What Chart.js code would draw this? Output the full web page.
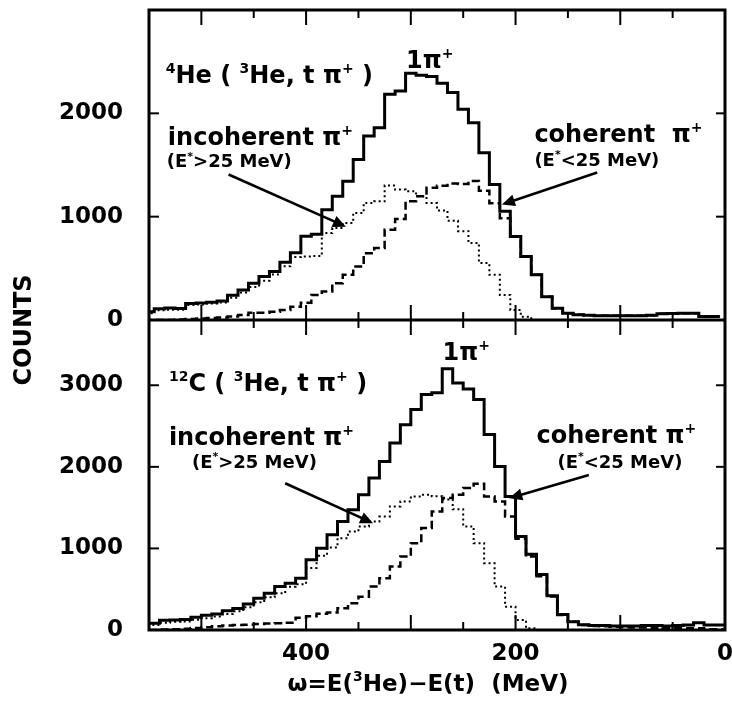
<!DOCTYPE html>
<html><head><meta charset="utf-8">
<style>html,body{margin:0;padding:0;background:#fff}canvas{display:block}</style>
<script src="https://cdn.jsdelivr.net/npm/chart.js@4"></script>
</head><body>
<canvas id="c" width="732" height="706"></canvas>
<script>
// ---- data (MeV bin centres, counts) ----
const binWidth = 10;
const topBins = [550,540,530,520,510,500,490,480,470,460,450,440,430,420,410,400,390,380,370,360,350,340,330,320,310,300,290,280,270,260,250,240,230,220,210,200,190,180,170,160,150,140,130,120,110,100,90,80,70,60,50,40,30,20,10];
const topTotal = [50,80,110,115,112,160,165,172,185,240,290,355,420,470,560,650,810,830,1068,1197,1343,1553,1780,1861,2185,2217,2389,2369,2356,2292,2201,2039,1910,1618,1311,1052,809,615,437,226,113,65,50,45,42,40,40,40,42,45,60,62,65,65,35];
const topIncoherent = [35,65,95,100,100,145,150,160,170,215,265,320,380,440,520,610,615,620,842,890,939,1036,1133,1149,1301,1262,1246,1197,1133,1060,960,860,745,551,437,243,97,32,0,0,0,0,0,0,0,0,0,0,0,0,0,0,0,0,0];
const topCoherent = [0,0,0,0,5,10,15,20,25,35,49,71,71,80,97,129,168,243,275,356,437,518,647,696,874,978,1149,1197,1279,1300,1320,1315,1345,1250,1130,985,809,615,437,226,113,65,50,45,42,40,40,40,42,45,60,62,65,65,35];

const bottomBins = [545,535,525,515,505,495,485,475,465,455,445,435,425,415,405,395,385,375,365,355,345,335,325,315,305,295,285,275,265,255,245,235,225,215,205,195,185,175,165,155,145,135,125,115,105,95,85,75,65,55,45,35,25,15,5];
const bottomTotal = [61,82,118,123,128,156,180,195,235,265,320,390,450,532,573,634,860,1003,1167,1330,1474,1658,1863,2067,2292,2517,2702,2886,2907,3201,3029,2955,2824,2395,2005,1637,1146,930,680,420,190,100,65,55,55,50,50,50,55,55,50,55,60,90,60];
const bottomIncoherent = [40,60,90,100,105,125,145,165,195,230,280,340,400,450,530,560,760,910,1010,1126,1207,1269,1330,1391,1514,1576,1637,1658,1640,1600,1480,1269,1064,819,532,286,123,20,0,0,0,0,0,0,0,0,0,0,0,0,0,0,0,0,0];
const bottomCoherent = [0,0,5,10,15,25,35,45,55,60,65,75,80,82,90,150,170,200,215,266,327,409,532,634,777,900,1064,1250,1453,1617,1658,1740,1793,1637,1576,1391,1120,900,660,410,185,100,62,50,45,40,35,30,30,25,20,20,20,20,10];

const xTickLabels = [400, 200, 0];
const topYTicks = [0, 1000, 2000];
const bottomYTicks = [0, 1000, 2000, 3000];

// ---- helpers ----
function steps(centers, values) {
  const pts = centers.map((c, i) => ({x: c + binWidth / 2, y: values[i]}));
  pts.push({x: centers[centers.length - 1] - binWidth / 2, y: values[values.length - 1]});
  return pts;
}
const FONT = '"DejaVu Sans", sans-serif';
function rich(ctx, x, y, segs, size, align) {
  const base = 'bold ' + size + 'px ' + FONT;
  const sup = 'bold ' + Math.round(size * 0.6) + 'px ' + FONT;
  let w = 0;
  for (const s of segs) { ctx.font = s[1] ? sup : base; w += ctx.measureText(s[0]).width; }
  let cx = align === 'center' ? x - w / 2 : x;
  ctx.textAlign = 'left'; ctx.textBaseline = 'alphabetic';
  for (const s of segs) {
    ctx.font = s[1] ? sup : base;
    ctx.fillText(s[0], cx, s[1] ? y - size * 0.42 : y);
    cx += ctx.measureText(s[0]).width;
  }
}

const notes = [
  {axis:'yTop', x:534, y:2290, size:24, segs:[['4',1],['He ( '],['3',1],['He, t π'],['+',1],[' )']]},
  {axis:'yTop', x:282, y:2440, size:24, align:'center', segs:[['1π'],['+',1]]},
  {axis:'yTop', x:532, y:1690, size:24, segs:[['incoherent π'],['+',1]]},
  {axis:'yTop', x:533, y:1480, size:18, segs:[['(E'],['*',1],['>25 MeV)']]},
  {axis:'yTop', x:182, y:1720, size:24, segs:[['coherent  π'],['+',1]]},
  {axis:'yTop', x:182, y:1490, size:18, segs:[['(E'],['*',1],['<25 MeV)']]},
  {axis:'yBot', x:531, y:2930, size:24, segs:[['12',1],['C ( '],['3',1],['He, t π'],['+',1],[' )']]},
  {axis:'yBot', x:247, y:3310, size:24, align:'center', segs:[['1π'],['+',1]]},
  {axis:'yBot', x:531, y:2268, size:24, segs:[['incoherent π'],['+',1]]},
  {axis:'yBot', x:509, y:1986, size:18, segs:[['(E'],['*',1],['>25 MeV)']]},
  {axis:'yBot', x:180, y:2293, size:24, segs:[['coherent π'],['+',1]]},
  {axis:'yBot', x:160, y:1986, size:18, segs:[['(E'],['*',1],['<25 MeV)']]}
];
const arrows = [
  {axis:'yTop', from:[474,1408], to:[362,903]},
  {axis:'yTop', from:[122,1427], to:[213,1117]},
  {axis:'yBot', from:[420,1799], to:[336,1308]},
  {axis:'yBot', from:[130,1900], to:[206,1615]}
];

const deco = {
  id: 'deco',
  afterDatasetsDraw(chart) {
    const {ctx, chartArea: a, scales} = chart;
    const xs = scales.x, yt = scales.yTop, yb = scales.yBot;
    const line = (x1, y1, x2, y2) => { ctx.beginPath(); ctx.moveTo(x1, y1); ctx.lineTo(x2, y2); ctx.stroke(); };
    ctx.save();
    ctx.strokeStyle = '#000'; ctx.fillStyle = '#000';
    ctx.lineCap = 'butt';
    // frame
    ctx.lineWidth = 3;
    ctx.strokeRect(a.left, a.top, a.right - a.left, a.bottom - a.top);
    const mid = yt.getPixelForValue(0);
    line(a.left, mid, a.right, mid);
    // x ticks
    ctx.lineWidth = 2;
    xs.ticks.forEach(t => {
      if (t.value <= 0 || t.value >= 550) return;
      const px = xs.getPixelForValue(t.value);
      const L = t.value % 100 === 0 ? 15 : 8;
      line(px, a.bottom, px, a.bottom - L);
      line(px, mid, px, mid - L);
      line(px, mid, px, mid + L);
      line(px, a.top, px, a.top + L);
    });
    // y ticks and labels
    [[yt, topYTicks], [yb, bottomYTicks]].forEach(([s, vals]) => {
      vals.forEach(v => {
        const py = s.getPixelForValue(v);
        ctx.font = 'bold 23px ' + FONT;
        ctx.textAlign = 'right'; ctx.textBaseline = 'middle';
        ctx.fillText(String(v), a.left - 26, py);
        if (v === 0) return;
        line(a.left, py, a.left + 10, py);
        line(a.right, py, a.right - 9, py);
      });
    });
    // arrows
    ctx.lineWidth = 2.5;
    arrows.forEach(ar => {
      const s = scales[ar.axis];
      const x1 = xs.getPixelForValue(ar.from[0]), y1 = s.getPixelForValue(ar.from[1]);
      const x2 = xs.getPixelForValue(ar.to[0]), y2 = s.getPixelForValue(ar.to[1]);
      const ang = Math.atan2(y2 - y1, x2 - x1);
      const hl = 13, hw = 6;
      line(x1, y1, x2 - Math.cos(ang) * 8, y2 - Math.sin(ang) * 8);
      ctx.beginPath();
      ctx.moveTo(x2, y2);
      ctx.lineTo(x2 - hl * Math.cos(ang) + hw * Math.sin(ang), y2 - hl * Math.sin(ang) - hw * Math.cos(ang));
      ctx.lineTo(x2 - hl * Math.cos(ang) - hw * Math.sin(ang), y2 - hl * Math.sin(ang) + hw * Math.cos(ang));
      ctx.closePath(); ctx.fill();
    });
    // notes
    notes.forEach(n => {
      const s = scales[n.axis];
      rich(ctx, xs.getPixelForValue(n.x), s.getPixelForValue(n.y), n.segs, n.size, n.align);
    });
    // axis titles
    rich(ctx, 428, 691, [['ω=E('],['3',1],['He)−E(t)  (MeV)']], 23, 'center');
    ctx.save();
    ctx.translate(31, 330);
    ctx.rotate(-Math.PI / 2);
    rich(ctx, 0, 0, [['COUNTS']], 24, 'center');
    ctx.restore();
    ctx.restore();
  }
};

const tickFont = {family: 'DejaVu Sans', size: 23, weight: 'bold'};
function ds(bins, vals, axis, width, dash) {
  return {data: steps(bins, vals), yAxisID: axis, stepped: 'after', borderColor: '#000',
    borderWidth: width, borderDash: dash, pointRadius: 0, fill: false, tension: 0, borderCapStyle: 'butt'};
}
function noPad(s) { s.paddingTop = 0; s.paddingBottom = 0; s.paddingLeft = 0; s.paddingRight = 0; }

new Chart(document.getElementById('c'), {
  type: 'line',
  data: {
    datasets: [
      ds(topBins, topTotal, 'yTop', 3, []),
      ds(bottomBins, bottomTotal, 'yBot', 3, []),
      ds(topBins, topCoherent, 'yTop', 2.5, [8, 4]),
      ds(bottomBins, bottomCoherent, 'yBot', 2.5, [8, 4]),
      ds(topBins, topIncoherent, 'yTop', 2, [2, 3]),
      ds(bottomBins, bottomIncoherent, 'yBot', 2, [2, 3])
    ]
  },
  options: {
    responsive: false, devicePixelRatio: 1, animation: false,
    layout: {padding: {left: 0, right: 7, top: 10, bottom: 0}},
    plugins: {legend: {display: false}, tooltip: {enabled: false}},
    scales: {
      x: {
        type: 'linear', min: 0, max: 550, reverse: true,
        grid: {display: false, drawTicks: false}, border: {display: false},
        ticks: {stepSize: 50, autoSkip: false, maxRotation: 0, padding: 10, color: '#000', font: tickFont,
          callback: v => xTickLabels.includes(v) ? String(v) : ''},
        afterFit: s => { s.height = 76; noPad(s); }
      },
      yBot: {
        type: 'linear', position: 'left', stack: 'panels', stackWeight: 1, min: 0, max: 3800,
        grid: {display: false, drawTicks: false}, border: {display: false},
        ticks: {display: false, stepSize: 1000},
        afterFit: s => { s.width = 149; noPad(s); }
      },
      yTop: {
        type: 'linear', position: 'left', stack: 'panels', stackWeight: 1, min: 0, max: 3000,
        grid: {display: false, drawTicks: false}, border: {display: false},
        ticks: {display: false, stepSize: 1000},
        afterFit: s => { s.width = 149; noPad(s); }
      }
    }
  },
  plugins: [deco]
});
</script></body></html>
